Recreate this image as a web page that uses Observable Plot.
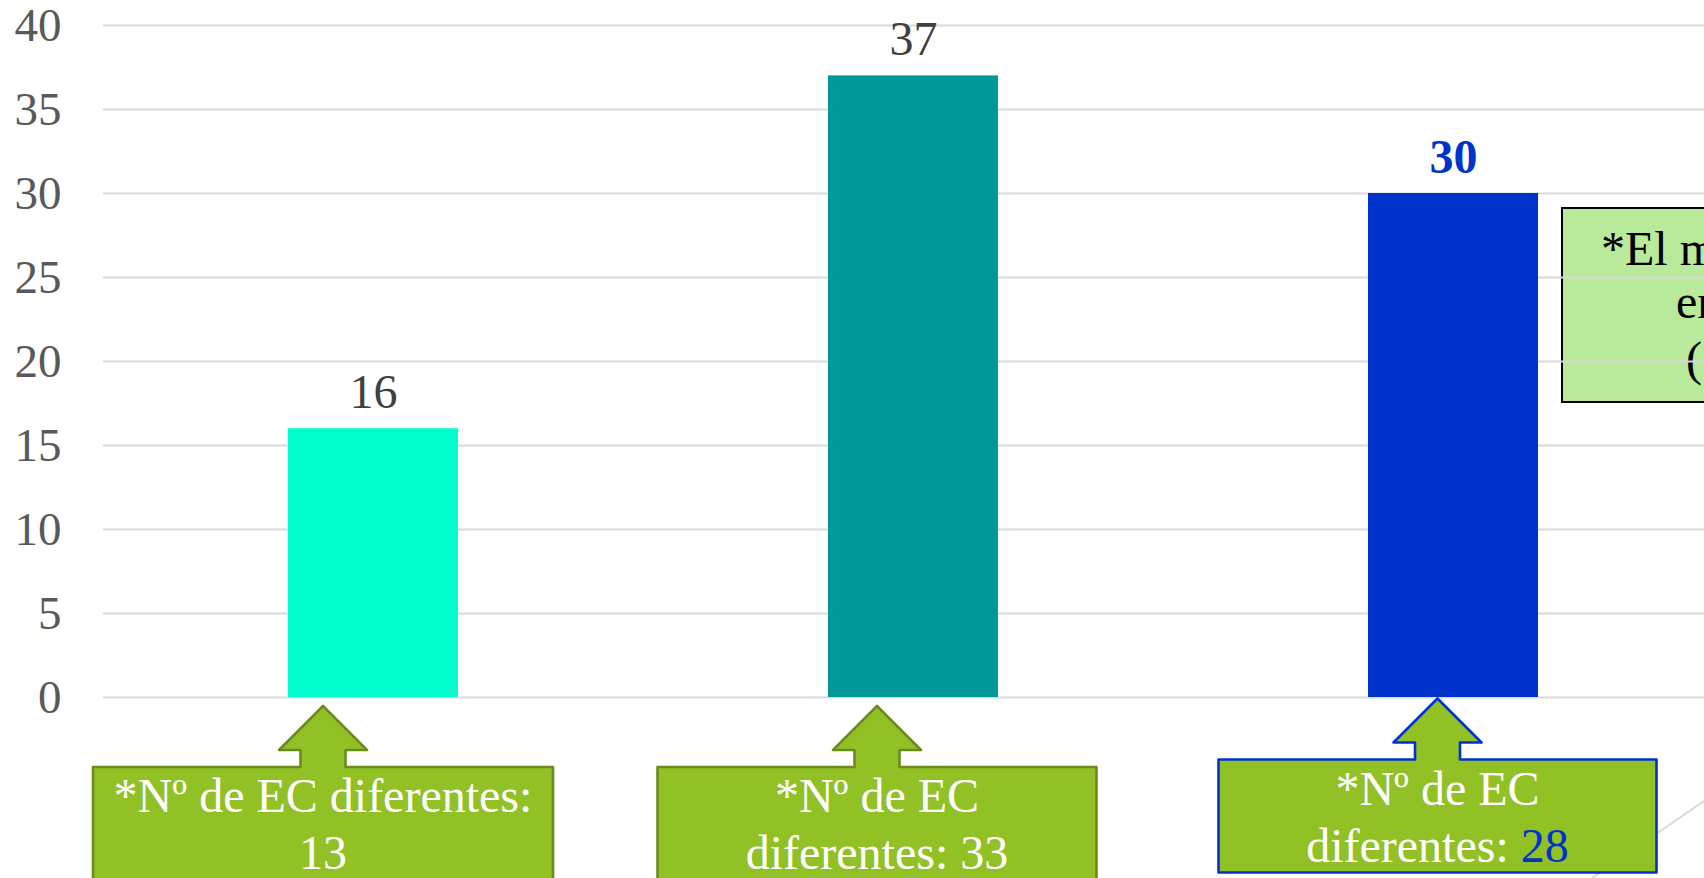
<!DOCTYPE html>
<html>
<head>
<meta charset="utf-8">
<script src="https://cdn.jsdelivr.net/npm/d3@7"></script>
<script src="https://cdn.jsdelivr.net/npm/@observablehq/plot@0.6"></script>
<style>
  html, body { margin: 0; padding: 0; background: #ffffff; overflow: hidden; }
  #chart { width: 1704px; height: 878px; }
</style>
</head>
<body>
<div id="chart"></div>
<script>
// ---- data ----
const categories = ["Grupo 1", "Grupo 2", "Grupo 3"];
const values = [16, 37, 30];
const barColors = ["#00FFCC", "#009999", "#0033CC"];
const labelColors = ["#404040", "#404040", "#0033CC"];
const labelBold = [false, false, true];
const yTicks = [0, 5, 10, 15, 20, 25, 30, 35, 40];
const calloutLine1 = ["*Nº de EC diferentes:", "*Nº de EC", "*Nº de EC"];
const calloutLine2 = ["", "diferentes: ", "diferentes: "];
const ecCounts = [13, 33, 28];
const ecCountColors = ["#FFFFFF", "#FFFFFF", "#0033CC"];
const calloutBorders = ["#6A8C1F", "#6A8C1F", "#0033CC"];
const noteLines = ["*El m", "en", "("];

const data = categories.map((c, i) => ({
  cat: c, value: values[i], color: barColors[i], labelColor: labelColors[i], bold: labelBold[i]
}));

const FONT = "'Liberation Serif', 'Times New Roman', serif";

// note box to the right of the last bar (drawn beneath gridlines)
function noteBox(index, scales) {
  const {x, y} = scales;
  const bw = x.bandwidth();
  const left = x(categories[2]) + bw + 24;
  const top = y(values[2]) + 15;
  const g = d3.create("svg:g");
  g.append("rect")
    .attr("x", left).attr("y", top)
    .attr("width", 420).attr("height", 194)
    .attr("fill", "#B9E99A").attr("stroke", "#000000").attr("stroke-width", 2);
  const starts = [39, 114, 124];
  const bases = [57, 110, 167];
  noteLines.forEach((t, i) => {
    g.append("text")
      .attr("x", left + starts[i]).attr("y", top + bases[i])
      .attr("text-anchor", "start")
      .attr("font-family", FONT).attr("font-size", 48).attr("fill", "#000000")
      .text(t);
  });
  return g.node();
}

// arrow callouts below the axis
function callouts(index, scales, values_, dims) {
  const {x, y} = scales;
  const bw = x.bandwidth();
  const g = d3.create("svg:g");
  // thin grey connector line behind the last callout
  g.append("line")
    .attr("x1", dims.width).attr("y1", dims.height - 77)
    .attr("x2", dims.width - 112).attr("y2", dims.height)
    .attr("stroke", "#d9d9d9").attr("stroke-width", 2);
  const offsets = [-50, -36, -15.5];
  const gaps = [9, 9, 1.5];
  const widths = [460, 439, 438];
  const headH = 44, headW = 44, shaftW = 22.5, shaftH = 17, boxH = 113;
  categories.forEach((c, i) => {
    const cx = x(c) + bw / 2 + offsets[i];
    const ty = y(0) + gaps[i];
    const bt = ty + headH + shaftH;
    const hw = widths[i] / 2;
    const p = [
      [cx, ty], [cx + headW, ty + headH], [cx + shaftW, ty + headH], [cx + shaftW, bt],
      [cx + hw, bt], [cx + hw, bt + boxH], [cx - hw, bt + boxH], [cx - hw, bt],
      [cx - shaftW, bt], [cx - shaftW, ty + headH], [cx - headW, ty + headH]
    ];
    g.append("path")
      .attr("d", "M" + p.map(q => q.join(",")).join("L") + "Z")
      .attr("fill", "#92C126").attr("stroke", calloutBorders[i])
      .attr("stroke-width", 2.6).attr("stroke-linejoin", "round");
    g.append("text")
      .attr("x", cx).attr("y", bt + 45).attr("text-anchor", "middle")
      .attr("font-family", FONT).attr("font-size", 48).attr("fill", "#FFFFFF")
      .text(calloutLine1[i]);
    const t2 = g.append("text")
      .attr("x", cx).attr("y", bt + 102).attr("text-anchor", "middle")
      .attr("font-family", FONT).attr("font-size", 48).attr("fill", "#FFFFFF");
    if (calloutLine2[i]) t2.append("tspan").text(calloutLine2[i]);
    t2.append("tspan").attr("fill", ecCountColors[i]).text(String(ecCounts[i]));
  });
  return g.node();
}

const chart = Plot.plot({
  width: 1704,
  height: 878,
  marginLeft: 103,
  marginRight: 0,
  marginTop: 25,
  marginBottom: 181,
  style: {fontFamily: FONT, background: "#ffffff"},
  x: {type: "band", domain: categories, range: [103, 1723], paddingInner: 0.6852, paddingOuter: 0.3426, axis: null},
  y: {domain: [0, 40], axis: null},
  color: {type: "identity"},
  marks: [
    noteBox,
    Plot.gridY(yTicks, {stroke: "#d9d9d9", strokeOpacity: 1, strokeWidth: 2}),
    Plot.barY(data, {x: "cat", y: "value", fill: "color"}),
    Plot.text(data.filter(d => !d.bold), {
      x: "cat", y: "value", text: d => String(d.value), fill: "labelColor",
      dy: -21, lineAnchor: "bottom", fontSize: 48, fontFamily: FONT
    }),
    Plot.text(data.filter(d => d.bold), {
      x: "cat", y: "value", text: d => String(d.value), fill: "labelColor",
      dy: -21, lineAnchor: "bottom", fontSize: 48, fontWeight: "bold", fontFamily: FONT
    }),
    Plot.axisY(yTicks, {
      tickSize: 0, tickPadding: 42, fontSize: 47, fontFamily: FONT, color: "#595959", label: null
    }),
    callouts
  ]
});

document.getElementById("chart").appendChild(chart);
</script>
</body>
</html>
